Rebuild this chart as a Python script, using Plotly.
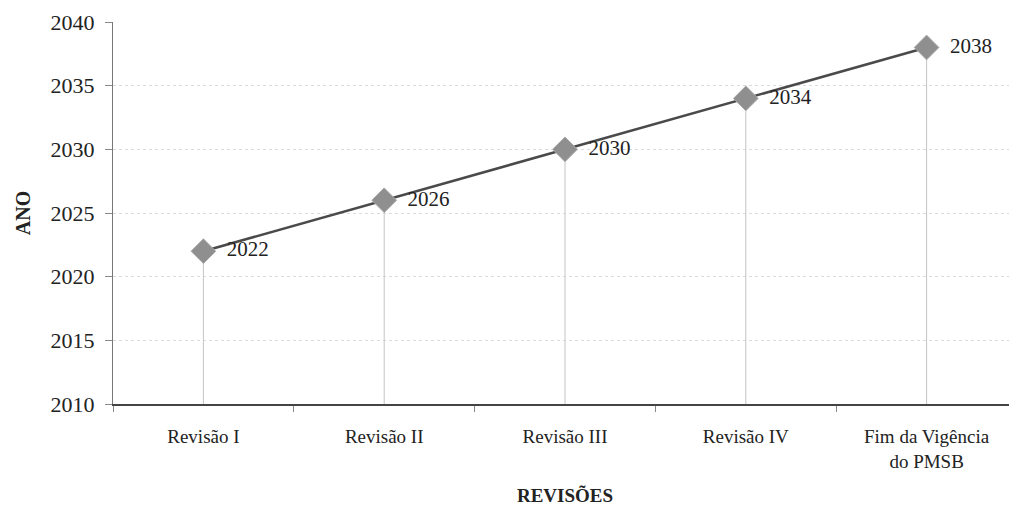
import plotly.graph_objects as go

categories = ["Revisão I", "Revisão II", "Revisão III", "Revisão IV", "Fim da Vigência<br>do PMSB"]
anos = [2022, 2026, 2030, 2034, 2038]
labels = [str(a) for a in anos]
y_min = 2010

FONT = "Liberation Serif"

fig = go.Figure()
fig.add_trace(go.Scatter(
    x=categories, y=anos,
    mode="lines+markers+text",
    text=["  " + t for t in labels],
    textposition="middle right",
    textfont=dict(family=FONT, size=21, color="#222"),
    line=dict(color="#4a4a4a", width=2.5),
    marker=dict(symbol="diamond", size=19, color="#8f8f8f", line=dict(color="#aaa", width=1)),
    error_y=dict(type="data", symmetric=False, array=[0] * len(anos),
                 arrayminus=[a - y_min for a in anos], width=0,
                 color="#c4c4c4", thickness=1),
    cliponaxis=False,
    showlegend=False,
))

fig.update_layout(
    width=1009, height=501,
    margin=dict(l=105, r=0, t=14, b=105, autoexpand=False),
    paper_bgcolor="white", plot_bgcolor="white",
    font=dict(family=FONT, size=18, color="#222"),
    xaxis=dict(
        type="category", range=[-0.5, 4.5], automargin=False,
        tickson="boundaries", ticks="outside", ticklen=6, tickcolor="#888",
        showgrid=False, showline=True, linecolor="#444", linewidth=2,
        tickfont=dict(family=FONT, size=19, color="#222"),
        ticklabelstandoff=14,
        title=dict(text="<b>REVISÕES</b>", font=dict(family=FONT, size=19, color="#222"), standoff=18),
    ),
    yaxis=dict(
        range=[2010, 2040], dtick=5, tick0=2010, automargin=False,
        ticks="outside", ticklen=7, tickcolor="#888",
        showgrid=True, gridcolor="#dcdcdc", griddash="dot", gridwidth=1,
        showline=True, linecolor="#777", linewidth=1,
        zeroline=False,
        tickfont=dict(family=FONT, size=22, color="#222"),
        ticklabelstandoff=6,
        title=dict(text="<b>ANO</b>", font=dict(family=FONT, size=20, color="#222"), standoff=14),
    ),
)

fig.write_html("out.html")
